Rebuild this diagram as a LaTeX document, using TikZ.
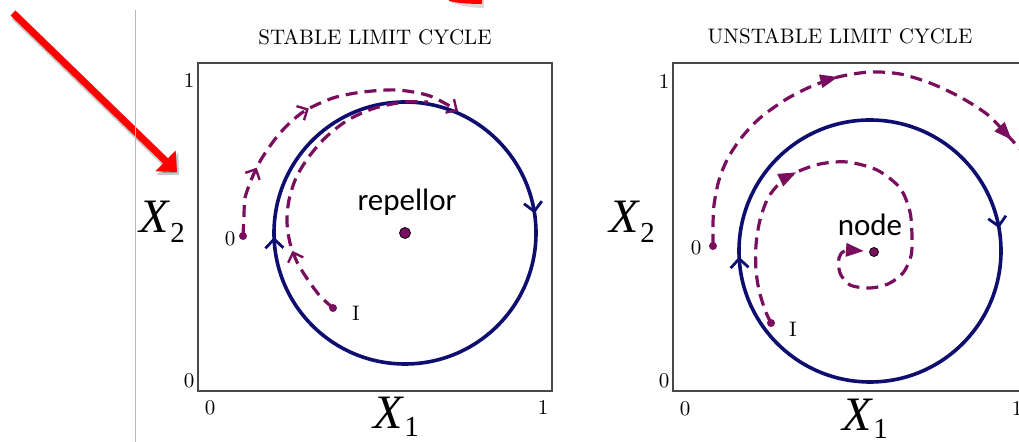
\documentclass[tikz,border=0pt]{standalone}
\usepackage{fontspec}
\usetikzlibrary{arrows.meta,decorations.markings}

\newfontfamily\pointfont{Carlito}
\newfontfamily\axisfont{Liberation Serif}

\definecolor{cycleblue}{RGB}{14,14,112}
\definecolor{trajpurple}{RGB}{122,14,94}
\definecolor{boxgray}{RGB}{72,72,72}

\tikzset{
  paneltitle/.style={font=\fontsize{10.5}{12}\selectfont, inner sep=0pt},
  panelbox/.style={draw=boxgray, line width=0.8pt},
  tick/.style={font=\fontsize{10.5}{12}\selectfont, inner sep=0pt},
  axislabel/.style={anchor=base west, inner sep=0pt, font=\axisfont\itshape\fontsize{24}{25}\selectfont},
  pointlabel/.style={font=\pointfont\fontsize{15.5}{17}\selectfont, inner sep=0pt},
  startlabel/.style={font=\fontsize{10.5}{12}\selectfont, inner sep=0pt},
  limitcycle/.style={draw=cycleblue, line width=1.8pt},
  traj/.style={draw=trajpurple, line width=1.6pt, dash pattern=on 6pt off 3.5pt},
  startdot/.style={circle, fill=trajpurple, inner sep=0pt, minimum size=4pt},
  fixdot/.style={circle, draw=black, fill=trajpurple, line width=0.4pt, inner sep=0pt, minimum size=#1},
  openmark/.style={postaction={decorate, decoration={markings, mark=at position #1 with {\arrow{Straight Barb[length=4pt,width=8pt,line width=1.2pt]}}}}},
  fillmark/.style={postaction={decorate, decoration={markings, mark=at position #1 with {\arrow{Triangle[length=9pt,width=6.5pt]}}}}},
  cyclemark/.style={postaction={decorate, decoration={markings, mark=at position #1 with {\arrowreversed{Straight Barb[length=4.5pt,width=9pt,line width=1.4pt]}}}}},
  pointer/.style={draw=red, line width=3.5pt, -{Triangle[length=8pt,width=14pt]}},
  pointershadow/.style={draw=black, opacity=0.22, line width=4.5pt, -{Triangle[length=8pt,width=15pt]}}
}
\newcommand{\subdrop}[2][5pt]{\kern0.8pt\raisebox{-#1}{\upshape\fontsize{14.5}{15}\selectfont #2}}

\begin{document}
\begin{tikzpicture}[x=0.5pt, y=-0.5pt]
    \useasboundingbox (0,0) rectangle (1019,442);
    \clip (0,0) rectangle (1019,442);

    % Pointer arrow and separator
    \draw[pointershadow] (15,16) -- (179,175);
    \draw[pointer] (13,13) -- (177,172);
    \fill[black, opacity=0.15] (449,1) .. controls (460,6) and (472,8) .. (484,8) -- (484,0) -- (449,0) -- cycle;
    \fill[red] (449,0) -- (482,0) -- (482,4) .. controls (468,4) and (457,3) .. (449,1) -- cycle;
    \draw[gray!55, line width=0.5pt] (135,10) -- (135,442);

    % Stable limit cycle
    \node[paneltitle] (titleS) at (375,37) {STABLE LIMIT CYCLE};
    \draw[panelbox] (198,63) rectangle (552,391);
    \node[tick] (sy1) at (189,81) {1};
    \node[tick] (sy0) at (189,381) {0};
    \node[tick] (sx0) at (210,408) {0};
    \node[tick] (sx1) at (543,408) {1};
    \node[axislabel] (sX2) at (139,233) {X\subdrop{2}};
    \node[axislabel] (sX1) at (373,429) {X\subdrop[4pt]{1}};

    \node[fixdot=5.5pt] (repellor) at (405,233) {};
    \node[pointlabel] (repellortext) at (407,202) {repellor};
    \draw[limitcycle, cyclemark=0.024, cyclemark=0.505] (repellor.center) circle[radius=65.5pt];

    \node[startdot] (sO) at (243,236) {};
    \node[startlabel] (sOtext) at (230,239) {0};
    \draw[traj, openmark=0.23, openmark=0.49, -{Straight Barb[length=4pt,width=8pt,line width=1.2pt]}]
        plot[smooth] coordinates {(243,236) (244,215) (245,198) (252,178) (262,158) (280,133) (303,112)
        (333,98) (363,92) (397,90) (430,96) (458,111)};

    \node[startdot] (sI) at (333,308) {};
    \node[startlabel] (sItext) at (356,313) {I};
    \draw[traj, openmark=0.23]
        plot[smooth] coordinates {(333,308) (320,296) (308,280) (297,262) (290,243) (287,222) (289,200)
        (296,178) (308,158) (325,138) (348,120) (375,108) (405,102) (428,102)};

    % Unstable limit cycle
    \node[paneltitle] (titleU) at (840,36) {UNSTABLE LIMIT CYCLE};
    \draw[panelbox] (673,63) rectangle (1027,391);
    \node[tick] (uy1) at (664,82) {1};
    \node[tick] (uy0) at (664,381) {0};
    \node[tick] (ux0) at (685,409) {0};
    \node[tick] (ux1) at (1017,409) {1};
    \node[axislabel] (uX2) at (609,233) {X\subdrop{2}};
    \node[axislabel] (uX1) at (842,431) {X\subdrop[4pt]{1}};

    \coordinate (ucentre) at (870,251);
    \node[fixdot=4.5pt] (node) at (874,252) {};
    \node[pointlabel] (nodetext) at (870,225) {node};
    \draw[limitcycle, cyclemark=0.028, cyclemark=0.507] (ucentre) circle[radius=65.5pt];

    \node[startdot] (uO) at (713,246) {};
    \node[startlabel] (uOtext) at (696,248) {0};
    \draw[traj, fillmark=0.51, fillmark=0.94]
        plot[smooth] coordinates {(713,246) (713,225) (714,205) (719,180) (728,158) (742,137) (760,118)
        (785,100) (810,87) (838,77) (870,72) (900,74) (930,83) (960,97) (988,115) (1010,138) (1030,160)};

    \node[startdot] (uI) at (771,323) {};
    \node[startlabel] (uItext) at (793,329) {I};
    \draw[traj, fillmark=0.345, -{Triangle[length=9pt,width=6.5pt]}]
        plot[smooth] coordinates {(771,323) (765,310) (759,290) (756,270) (756,245) (760,220) (768,198)
        (780,183) (797,172) (820,164) (847,162) (877,170) (900,188) (910,212) (912,237) (911,256)
        (903,273) (888,284) (870,288) (850,285) (840,273) (839,258) (845,251) (864,251)};
\end{tikzpicture}
\end{document}
